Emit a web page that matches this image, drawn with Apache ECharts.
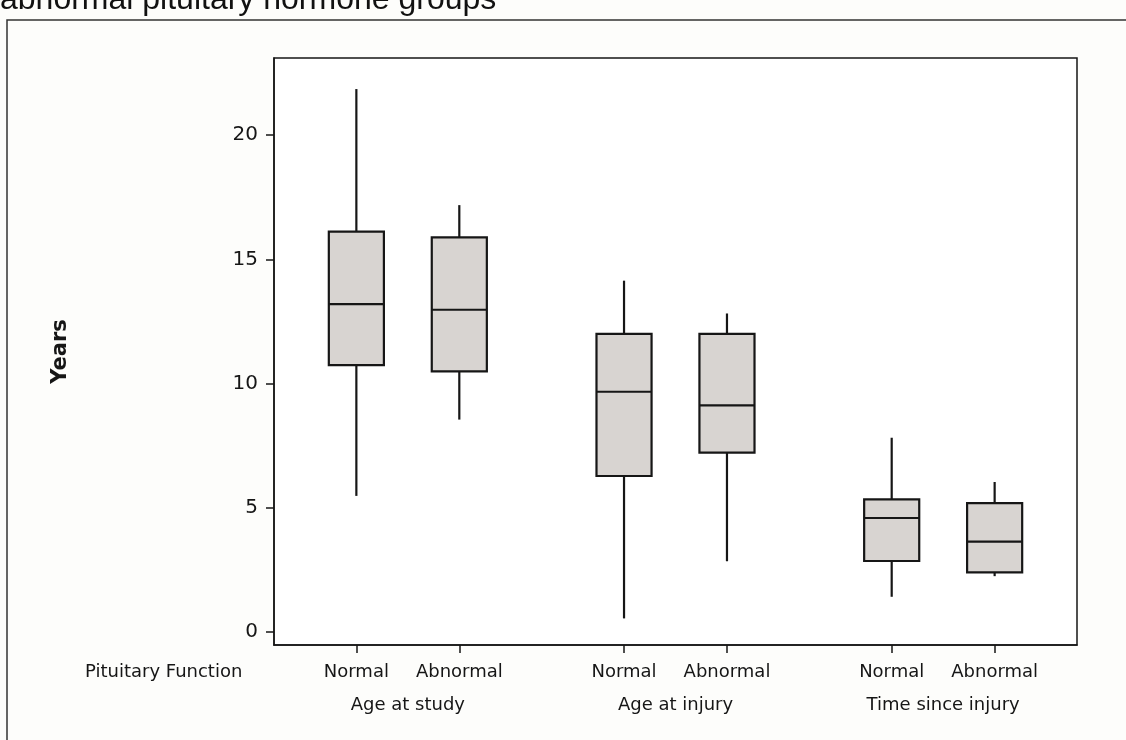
<!DOCTYPE html>
<html>
<head>
<meta charset="utf-8">
<title>Years by pituitary function</title>
<script src="https://cdn.jsdelivr.net/npm/echarts@6/dist/echarts.min.js"></script>
<style>
  html, body { margin: 0; padding: 0; background: #fdfdfb; }
  #chart { width: 1126px; height: 740px; }
</style>
</head>
<body>
<div id="chart"></div>
<script>
// Measures and pituitary-function groups
const measures = ['Age at study', 'Age at injury', 'Time since injury'];
const functionGroups = ['Normal', 'Abnormal'];

// Box positions along the x axis (Normal, Abnormal for each measure)
const boxPositions = [0, 1, 2.6, 3.6, 5.2, 6.2];
const measureCentres = [0.5, 3.1, 5.7];

// Five-number summaries, in years
const whiskerLow  = [5.48, 8.55, 0.55, 2.85, 1.42, 2.25];
const quartile1   = [10.74, 10.49, 6.28, 7.22, 2.86, 2.40];
const medians     = [13.2, 12.97, 9.67, 9.12, 4.59, 3.64];
const quartile3   = [16.11, 15.88, 12.0, 12.0, 5.34, 5.19];
const whiskerHigh = [21.85, 17.18, 14.14, 12.82, 7.82, 6.04];

const yTicks = [0, 5, 10, 15, 20];

const boxData = boxPositions.map((x, i) => [
  x, whiskerLow[i], quartile1[i], medians[i], quartile3[i], whiskerHigh[i]
]);

const labelFont = 'DejaVu Sans';
const ink = '#161616';

function renderBox(params, api) {
  const x = api.value(0);
  const lo = api.coord([x, api.value(1)]);
  const q1 = api.coord([x, api.value(2)]);
  const md = api.coord([x, api.value(3)]);
  const q3 = api.coord([x, api.value(4)]);
  const hi = api.coord([x, api.value(5)]);
  const half = api.size([0.535, 0])[0] / 2;
  const stroke = { stroke: ink, lineWidth: 2.2 };
  return {
    type: 'group',
    children: [
      { type: 'line', shape: { x1: hi[0], y1: hi[1], x2: q3[0], y2: q3[1] }, style: stroke },
      { type: 'line', shape: { x1: q1[0], y1: q1[1], x2: lo[0], y2: lo[1] }, style: stroke },
      { type: 'rect', shape: { x: q3[0] - half, y: q3[1], width: half * 2, height: q1[1] - q3[1] },
        style: { fill: '#d8d4d1', stroke: ink, lineWidth: 2.2 } },
      { type: 'line', shape: { x1: md[0] - half, y1: md[1], x2: md[0] + half, y2: md[1] }, style: stroke }
    ]
  };
}

const chart = echarts.init(document.getElementById('chart'), null, { renderer: 'canvas' });

chart.setOption({
  backgroundColor: '#fdfdfb',
  animation: false,
  grid: {
    left: 274, right: 49, top: 58, bottom: 95,
    show: true, backgroundColor: '#ffffff', borderColor: ink, borderWidth: 1.5
  },
  xAxis: [
    {
      type: 'value', min: -0.8, max: 7.0, position: 'bottom',
      axisLine: { show: true, onZero: false, lineStyle: { color: ink, width: 1.5 } },
      splitLine: { show: false },
      axisTick: { show: true, customValues: boxPositions, length: 8, lineStyle: { color: ink, width: 1.5 } },
      axisLabel: {
        customValues: boxPositions, margin: 18,
        fontFamily: labelFont, fontSize: 18, color: ink,
        formatter: v => functionGroups[boxPositions.indexOf(v) % 2]
      }
    },
    {
      type: 'value', min: -0.8, max: 7.0, position: 'bottom',
      axisLine: { show: false, onZero: false }, splitLine: { show: false }, axisTick: { show: false },
      axisLabel: {
        customValues: measureCentres, margin: 51,
        fontFamily: labelFont, fontSize: 18, color: ink,
        formatter: v => measures[measureCentres.indexOf(v)]
      }
    }
  ],
  yAxis: {
    type: 'value', min: -0.52, max: 23.1,
    name: 'Years', nameLocation: 'middle', nameRotate: 90, nameGap: 203,
    nameTextStyle: { fontFamily: labelFont, fontSize: 21, fontWeight: 'bold', color: ink },
    axisLine: { show: true, onZero: false, lineStyle: { color: ink, width: 1.5 } },
    splitLine: { show: false },
    axisTick: { show: true, customValues: yTicks, length: 8, lineStyle: { color: ink, width: 1.5 } },
    axisLabel: { customValues: yTicks, margin: 16, fontFamily: labelFont, fontSize: 20, color: ink }
  },
  graphic: [
    {
      type: 'text', left: 0, top: -16, silent: true,
      style: { text: 'abnormal pituitary hormone groups', font: '32px "Liberation Sans"', fill: '#111' }
    },
    {
      type: 'rect', silent: true,
      shape: { x: 7, y: 20, width: 1300, height: 900 },
      style: { fill: 'none', stroke: '#333', lineWidth: 1.5 }
    },
    {
      type: 'text', left: 85, top: 663, silent: true,
      style: { text: 'Pituitary Function', font: '18px "DejaVu Sans"', fill: ink }
    }
  ],
  series: [{
    type: 'custom',
    renderItem: renderBox,
    encode: { x: 0, y: [1, 2, 3, 4, 5] },
    data: boxData
  }]
});
</script>
</body>
</html>
